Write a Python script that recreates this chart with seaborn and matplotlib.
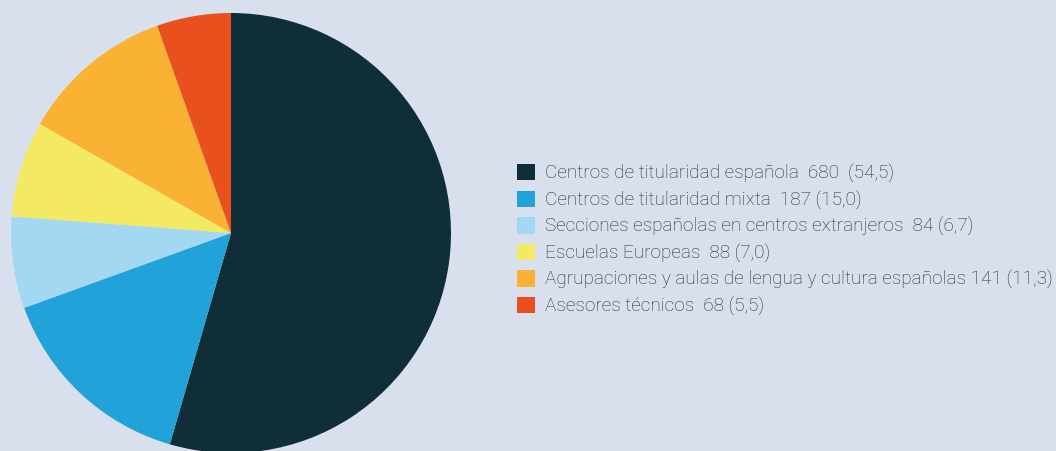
import matplotlib
matplotlib.use("Agg")
import matplotlib.pyplot as plt
import seaborn as sns
from matplotlib.patches import Patch

categories = [
    "Centros de titularidad española",
    "Centros de titularidad mixta",
    "Secciones españolas en centros extranjeros",
    "Escuelas Europeas",
    "Agrupaciones y aulas de lengua y cultura españolas",
    "Asesores técnicos",
]
values = [680, 187, 84, 88, 141, 68]
percent_labels = ["(54,5)", "(15,0)", "(6,7)", "(7,0)", "(11,3)", "(5,5)"]
separators = ["  ", "  ", "  ", "  ", " ", "  "]
value_separators = ["  ", " ", " ", " ", " ", " "]
colors = ["#102e38", "#21a3d9", "#a3d8f3", "#f3e962", "#f9b233", "#e8501e"]

bg = "#d9e0ed"
sns.set_theme(style="white")
plt.rcParams["font.family"] = ["Roboto", "DejaVu Sans"]

W, H = 1056, 451
fig = plt.figure(figsize=(W / 100, H / 100), dpi=100, facecolor=bg)

cx, cy, r = 231, 451 - 233, 220
ax = fig.add_axes([(cx - r) / W, (cy - r) / H, 2 * r / W, 2 * r / H])
ax.set_facecolor(bg)
ax.pie(values, colors=colors, startangle=90, counterclock=False, radius=1,
       wedgeprops=dict(linewidth=0))
ax.set_xlim(-1, 1)
ax.set_ylim(-1, 1)
ax.set_aspect("equal")
ax.axis("off")

labels = [f"{c}{s}{v}{vs}{p}" for c, s, v, vs, p in
          zip(categories, separators, values, value_separators, percent_labels)]
handles = [Patch(facecolor=col, edgecolor="none") for col in colors]
fs = 13.7
leg = fig.legend(handles, labels, loc="center left",
                 bbox_to_anchor=(517 / W, 1 - 240 / H), frameon=False,
                 handlelength=0.95, handleheight=0.95,
                 handletextpad=0.53, labelspacing=0.4, borderpad=0,
                 borderaxespad=0, prop=dict(family=["Roboto", "DejaVu Sans"], weight="light", size=fs))
for t in leg.get_texts():
    t.set_color("#2a2a2a")

fig.savefig("out.png", dpi=100, facecolor=bg)
